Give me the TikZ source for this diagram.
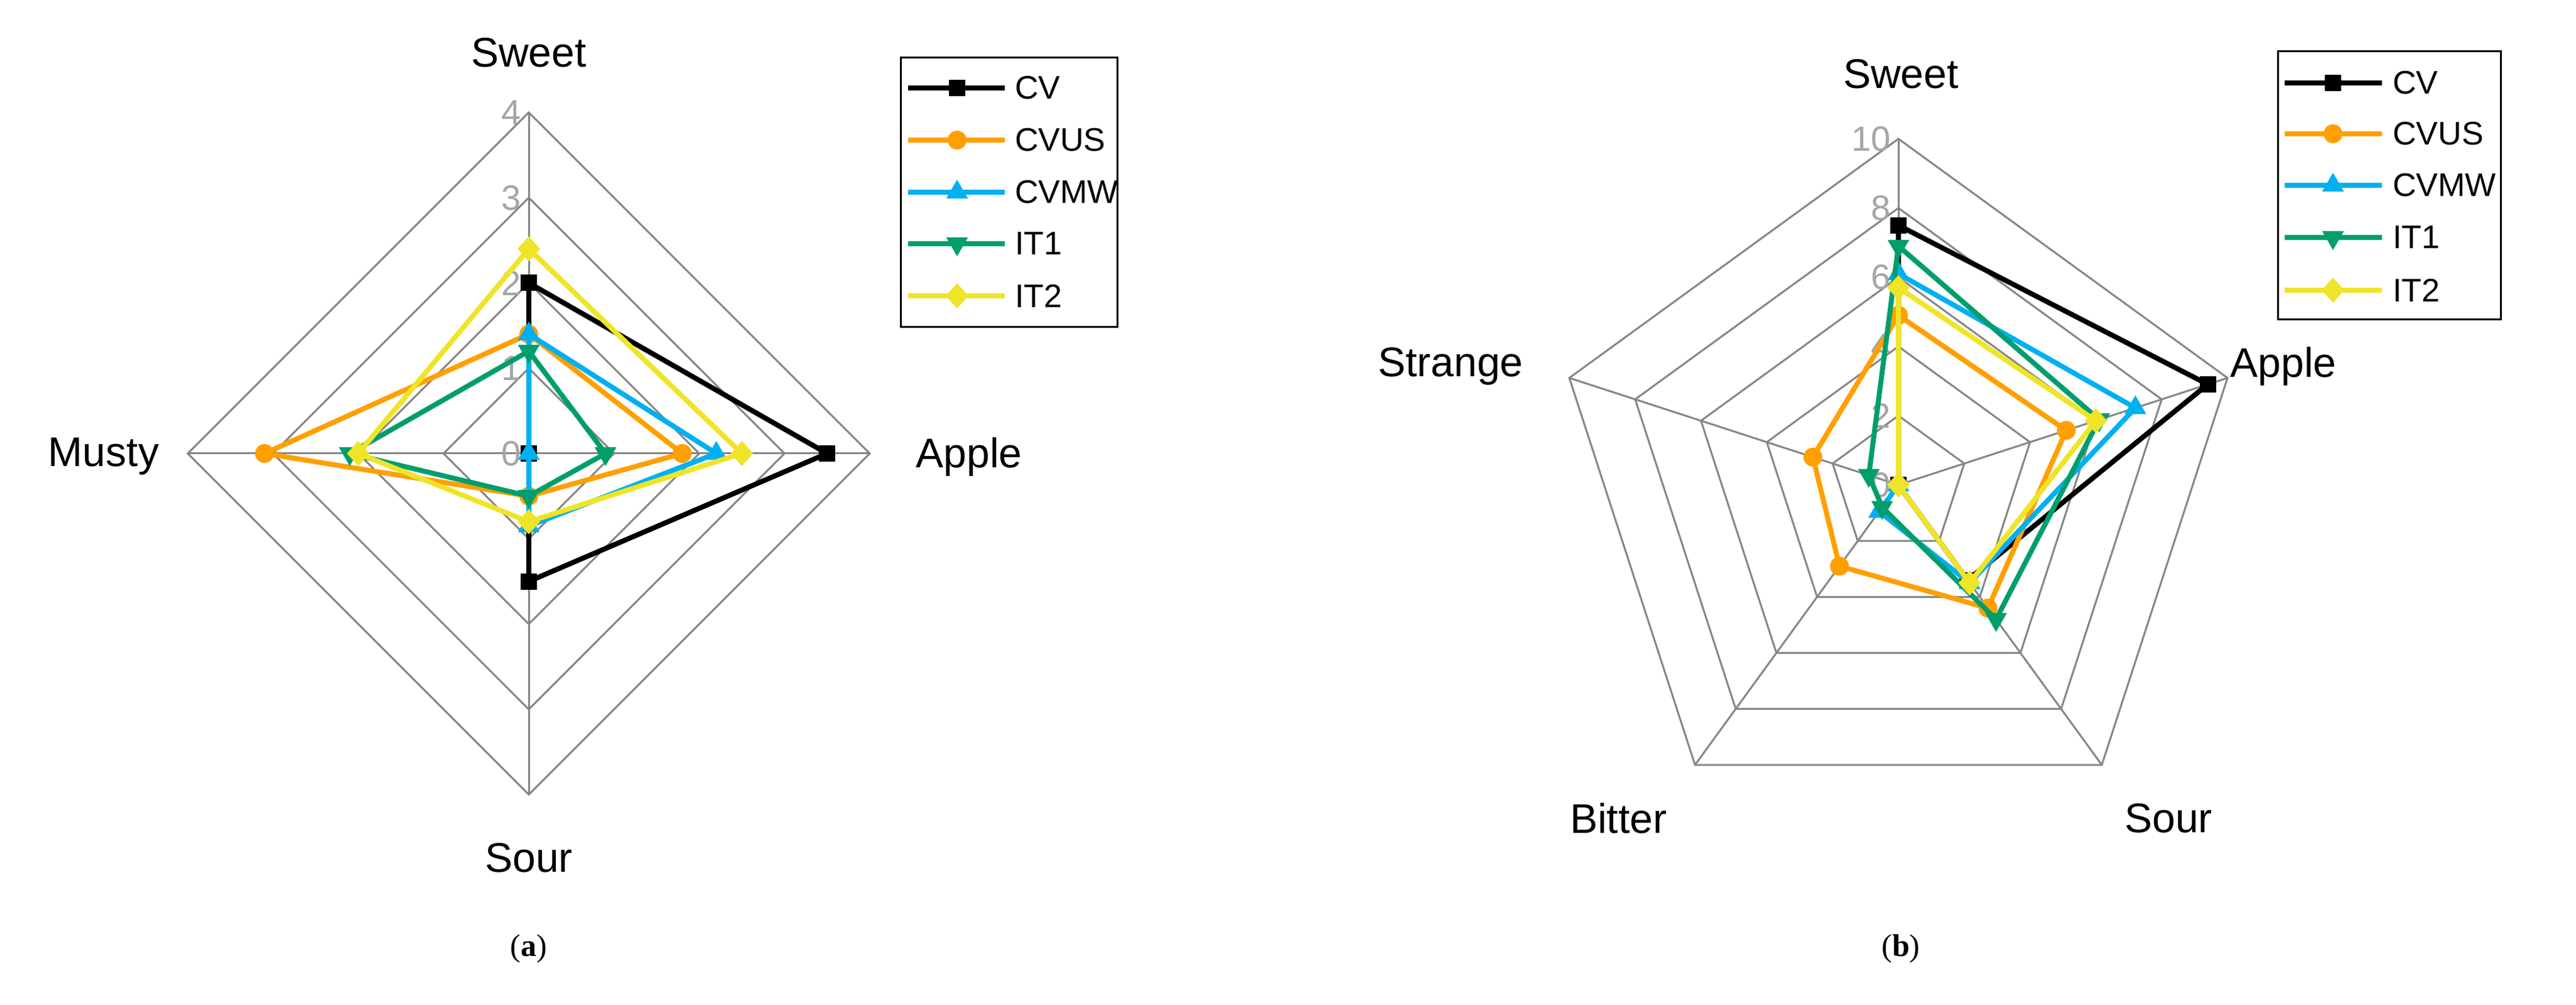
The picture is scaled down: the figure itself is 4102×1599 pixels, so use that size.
\documentclass[tikz,border=0pt]{standalone}
\usepackage{fontspec}
\setmainfont{Liberation Sans}
\newfontfamily\capfont{Liberation Serif}
\usetikzlibrary{shapes.geometric}
\definecolor{gridc}{RGB}{134,134,134}
\definecolor{tickc}{RGB}{165,165,165}
\definecolor{cCV}{RGB}{0,0,0}
\definecolor{cCVUS}{RGB}{255,160,0}
\definecolor{cCVMW}{RGB}{0,176,240}
\definecolor{cITa}{RGB}{0,158,108}
\definecolor{cITb}{RGB}{240,228,40}
\tikzset{
 grid/.style={gridc,line width=3},
 dline/.style={line width=8,line join=miter},
 mk/.style={inner sep=0,draw=none},
 msq/.style={mk,rectangle,minimum size=26},
 mci/.style={mk,circle,minimum size=30},
 mtu/.style={mk,regular polygon,regular polygon sides=3,minimum size=40},
 mtd/.style={mk,regular polygon,regular polygon sides=3,shape border rotate=180,minimum size=40},
 mdi/.style={mk,diamond,minimum width=36,minimum height=40},
 lab/.style={font=\fontsize{66}{70}\selectfont},
 tick/.style={font=\fontsize{56}{60}\selectfont,text=tickc,anchor=east,inner sep=0},
 leg/.style={font=\fontsize{52}{56}\selectfont,anchor=west,inner sep=0},
}
\newcommand\radarA[6]{%
 \draw[dline,#1] (90:{#3*135.75}) -- (0:{#4*135.75}) -- (270:{#5*135.75}) -- (180:{#6*135.75}) -- cycle;
 \foreach \ang/\v in {90/#3,0/#4,270/#5,180/#6} \node[#2,fill=#1] at (\ang:{\v*135.75}) {};}
\newcommand\radarB[7]{%
 \draw[dline,#1] (90:{#3*55.1}) -- (18:{#4*55.1}) -- (-54:{#5*55.1}) -- (-126:{#6*55.1}) -- (162:{#7*55.1}) -- cycle;
 \foreach \ang/\v in {90/#3,18/#4,-54/#5,-126/#6,162/#7} \node[#2,fill=#1] at (\ang:{\v*55.1}) {};}
\begin{document}
\begin{tikzpicture}[x=1pt,y=1pt]
\useasboundingbox[fill=white] (0,0) rectangle (4102,1599);
% ---------- chart a ----------
\begin{scope}[shift={(842,877)}]
 \foreach \r in {1,...,4}
  \draw[grid] (90:{\r*135.75}) -- (0:{\r*135.75}) -- (270:{\r*135.75}) -- (180:{\r*135.75}) -- cycle;
 \foreach \ang in {90,0,270,180} \draw[grid] (0,0) -- (\ang:543);
 \foreach \r in {0,...,4} \node[tick] at (-12,{\r*135.75}) {\r};
 \radarA{cCV}{msq}{2}{3.5}{1.5}{0}
 \radarA{cCVUS}{mci}{1.4}{1.8}{0.5}{3.1}
 \radarA{cCVMW}{mtu}{1.4}{2.2}{0.85}{0}
 \radarA{cITa}{mtd}{1.2}{0.9}{0.5}{2.1}
 \radarA{cITb}{mdi}{2.4}{2.5}{0.8}{2.0}
\end{scope}
\node[lab] (aS) at (842,1515) {Sweet};
\node[lab] (aA) at (1543,872) {Apple};
\node[lab] (aSo) at (842,233) {Sour};
\node[lab] (aM) at (165,872) {Musty};
\node[font=\capfont\fontsize{50}{54}\selectfont] (capa) at (842,89) {(\textbf{a})};
% legend a
\draw[black,line width=3] (1434,1507) rectangle (1779,1078);
\foreach \y/\c/\m/\t in {1459/cCV/msq/CV,1376/cCVUS/mci/CVUS,1293/cCVMW/mtu/CVMW,1211/cITa/mtd/IT1,1128/cITb/mdi/IT2}{
 \draw[dline,\c] (1446,\y) -- (1600,\y);
 \node[\m,fill=\c] at (1524,\y) {};
 \node[leg] at (1616,\y) {\t};}
% ---------- chart b ----------
\begin{scope}[shift={(3023,827)}]
 \foreach \r in {1,...,5}
  \draw[grid] (90:{\r*110.2}) -- (18:{\r*110.2}) -- (-54:{\r*110.2}) -- (-126:{\r*110.2}) -- (162:{\r*110.2}) -- cycle;
 \foreach \ang in {90,18,-54,-126,162} \draw[grid] (0,0) -- (\ang:551);
 \foreach \r in {0,2,...,10} \node[tick] at (-12,{\r*55.1}) {\r};
 \radarB{cCV}{msq}{7.5}{9.4}{3.4}{0}{0}
 \radarB{cCVUS}{mci}{4.9}{5.1}{4.4}{2.9}{2.6}
 \radarB{cCVMW}{mtu}{6.1}{7.2}{3.5}{0.95}{0}
 \radarB{cITa}{mtd}{6.9}{6.1}{4.8}{0.8}{0.9}
 \radarB{cITb}{mdi}{5.7}{6.0}{3.5}{0}{0}
\end{scope}
\node[lab] (bS) at (3027,1481) {Sweet};
\node[lab] (bA) at (3636,1016) {Apple};
\node[lab] (bSo) at (3453,296) {Sour};
\node[lab] (bB) at (2577,296) {Bitter};
\node[lab] (bSt) at (2310,1016) {Strange};
\node[font=\capfont\fontsize{50}{54}\selectfont] (capb) at (3027,89) {(\textbf{b})};
% legend b
\draw[black,line width=3] (3627,1517) rectangle (3982,1090);
\foreach \y/\c/\m/\t in {1467/cCV/msq/CV,1386/cCVUS/mci/CVUS,1304/cCVMW/mtu/CVMW,1221/cITa/mtd/IT1,1137/cITb/mdi/IT2}{
 \draw[dline,\c] (3638,\y) -- (3793,\y);
 \node[\m,fill=\c] at (3715,\y) {};
 \node[leg] at (3810,\y) {\t};}
\end{tikzpicture}
\end{document}
